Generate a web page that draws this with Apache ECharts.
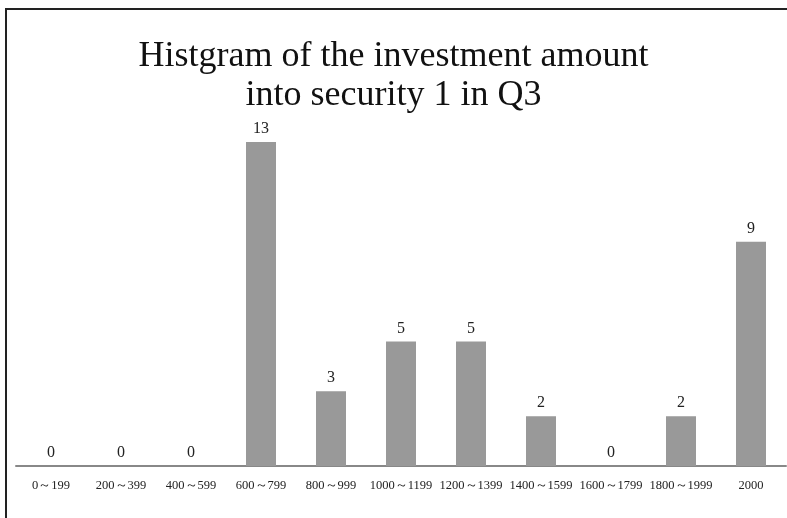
<!DOCTYPE html>
<html><head><meta charset="utf-8">
<script src="https://cdn.jsdelivr.net/npm/echarts@6/dist/echarts.min.js"></script>
<style>html,body{margin:0;padding:0;background:#fff}#c{width:787px;height:518px}</style>
</head><body><div id="c"></div>
<script>
const categories = ['0～199','200～399','400～599','600～799','800～999','1000～1199','1200～1399','1400～1599','1600～1799','1800～1999','2000'];
const counts = [0,0,0,13,3,5,5,2,0,2,9];
const titleText = 'Histgram of the investment amount\ninto security 1 in Q3';
const serif = '"Liberation Serif","DejaVu Serif",serif';
const chart = echarts.init(document.getElementById('c'), null, {renderer:'canvas'});
chart.setOption({
  animation:false,
  backgroundColor:'#fff',
  graphic:[{type:'rect',shape:{x:6,y:9,width:820,height:540},style:{fill:'none',stroke:'#222',lineWidth:2},z:100}],
  title:{text:titleText,left:'center',top:32,padding:[5,0,5,14],textStyle:{fontFamily:serif,fontSize:36,fontWeight:'normal',color:'#111',lineHeight:39}},
  grid:{left:16,right:1,top:142,bottom:52},
  xAxis:{type:'category',data:categories,axisLine:{lineStyle:{color:'#888',width:2}},axisTick:{show:false},
    axisLabel:{interval:0,margin:13,fontFamily:serif,fontSize:12.5,color:'#222'}},
  yAxis:{type:'value',min:0,max:13,show:false,splitLine:{show:false}},
  series:[{type:'bar',data:counts,barWidth:30,itemStyle:{color:'#999999'},
    label:{show:true,position:'top',distance:5,fontFamily:serif,fontSize:16,color:'#222'}}]
});
</script></body></html>
